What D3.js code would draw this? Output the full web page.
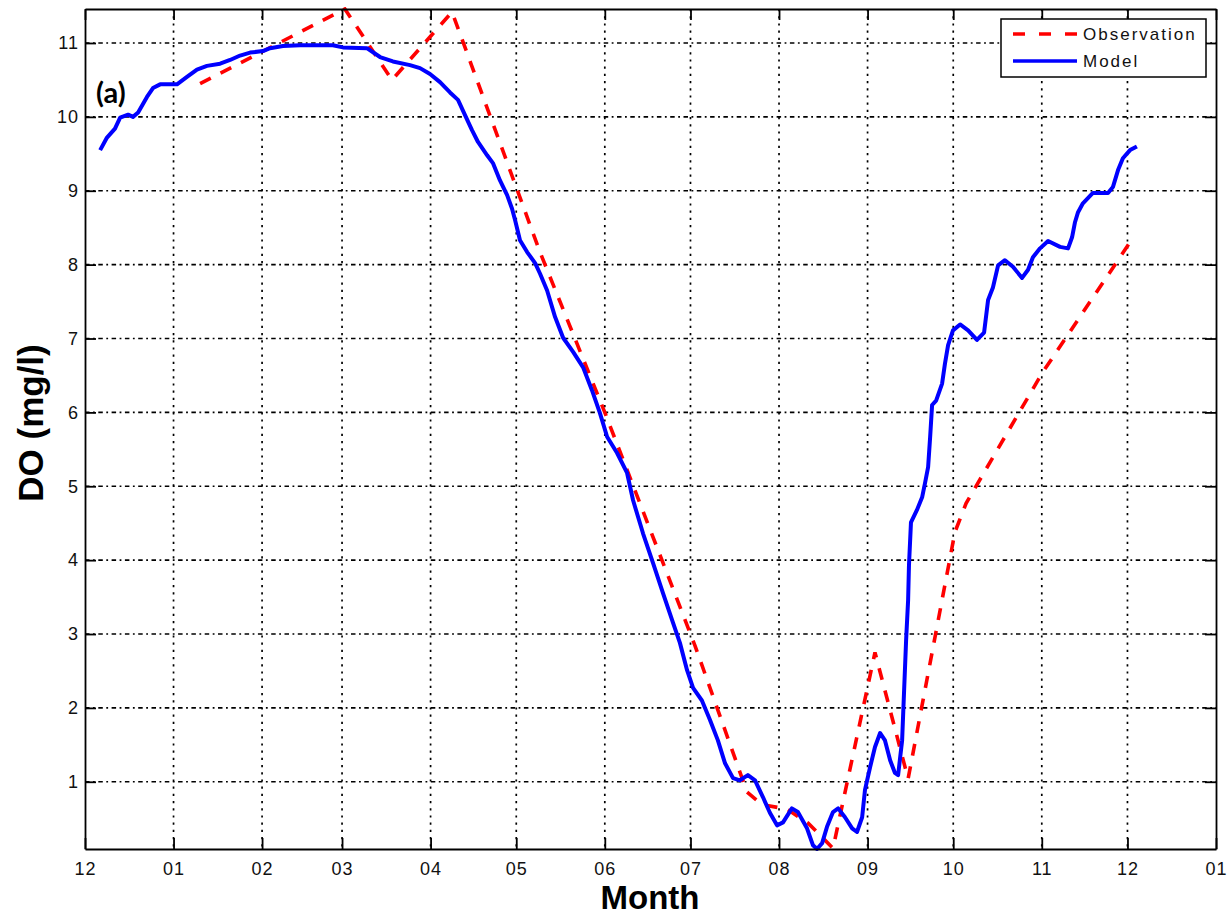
<!DOCTYPE html>
<html>
<head>
<meta charset="utf-8">
<script src="https://cdn.jsdelivr.net/npm/d3@7"></script>
<style>
  html, body { margin: 0; padding: 0; background: #fff; }
  svg { display: block; }
  .tick-label { font-family: "Liberation Sans", Arial, sans-serif; font-size: 18px; fill: #111; letter-spacing: 1px; }
  .axis-title { font-family: "Liberation Sans", Arial, sans-serif; font-size: 33px; font-weight: bold; fill: #000; }
  .legend-text { font-family: "Liberation Sans", Arial, sans-serif; font-size: 17px; fill: #111; letter-spacing: 2px; }
  .panel-tag { font-family: Lato, "Open Sans", sans-serif; font-size: 29px; font-weight: bold; fill: #000; }
</style>
</head>
<body>
<svg id="chart" width="1232" height="915"></svg>
<script>
// Dissolved oxygen, Dec 2010 – Dec 2011. Days are counted from 1 December 2010.
const startUTC = Date.UTC(2010, 11, 1);
const endUTC = Date.UTC(2012, 0, 1);

// Observed DO (mg/l)
const obsDay = [40.3, 91.0, 107.5, 128.5, 159.3, 182.1, 213.6, 231.8, 237.0, 245.8, 253.2,
  261.9, 276.6, 288.2, 304.6, 308.5, 335.1, 366.9];
const obsDO = [10.45, 11.46, 10.50, 11.42, 8.17, 5.99, 2.84, 0.86, 0.69, 0.63, 0.44,
  0.10, 2.75, 1.04, 4.38, 4.77, 6.53, 8.36];

// Modelled DO (mg/l)
const modelDay = [5.3, 7.7, 10.5, 12.3, 15.1, 16.8, 18.6, 21.7, 23.8, 26.3, 32.2, 35.7, 39.2, 42.7,
  47.3, 50.8, 54.3, 57.8, 62.3, 64.8, 69.3, 75.3, 86.8, 90.3, 98.7, 103.3, 107.8, 113.8, 117.3,
  120.8, 124.3, 127.8, 130.6, 133.1, 135.5, 137.6, 140.8, 142.9, 145.3, 147.8, 149.5, 150.6,
  152.3, 154.8, 157.6, 159.3, 161.8, 164.6, 167.4, 170.9, 174.4, 177.5, 180.3, 182.8, 186.3,
  189.8, 191.9, 195.4, 198.9, 202.4, 205.9, 208.3, 210.8, 212.9, 216.0, 218.8, 221.6, 224.1,
  226.9, 229.3, 232.1, 234.6, 237.4, 239.8, 242.3, 244.4, 247.5, 249.6, 252.8, 254.9, 256.3,
  258.1, 259.8, 261.9, 263.7, 266.1, 268.6, 270.3, 272.1, 273.1, 274.9, 276.6, 278.4, 280.1,
  281.9, 283.6, 284.7, 286.1, 286.8, 287.5, 288.2, 288.5, 289.2, 291.3, 293.1, 294.1, 295.2,
  295.9, 296.6, 298.0, 300.1, 301.1, 302.2, 303.9, 306.4, 309.2, 312.3, 314.8, 316.2, 317.9,
  319.7, 322.1, 324.9, 328.1, 330.2, 331.9, 334.4, 337.2, 341.4, 344.2, 345.6, 346.6, 347.7,
  349.4, 352.9, 358.2, 359.9, 361.7, 363.4, 365.9, 368.3];
const modelDO = [9.55, 9.72, 9.84, 9.99, 10.03, 10.00, 10.06, 10.27, 10.39, 10.44, 10.44, 10.54,
  10.64, 10.69, 10.72, 10.77, 10.83, 10.87, 10.89, 10.93, 10.96, 10.97, 10.97, 10.94, 10.93,
  10.81, 10.75, 10.70, 10.66, 10.58, 10.47, 10.33, 10.23, 10.02, 9.82, 9.66, 9.48, 9.37, 9.14,
  8.94, 8.76, 8.60, 8.33, 8.17, 8.02, 7.88, 7.65, 7.29, 7.01, 6.82, 6.61, 6.30, 5.99, 5.67,
  5.45, 5.18, 4.81, 4.36, 3.96, 3.55, 3.15, 2.88, 2.51, 2.27, 2.10, 1.84, 1.56, 1.25, 1.05,
  1.02, 1.09, 1.02, 0.79, 0.58, 0.41, 0.45, 0.64, 0.59, 0.37, 0.14, 0.09, 0.17, 0.39, 0.59,
  0.64, 0.52, 0.37, 0.32, 0.52, 0.89, 1.20, 1.47, 1.66, 1.56, 1.29, 1.12, 1.09, 1.56, 2.24,
  2.92, 3.46, 3.93, 4.51, 4.68, 4.85, 5.04, 5.26, 5.66, 6.10, 6.16, 6.39, 6.66, 6.91, 7.11,
  7.19, 7.11, 6.98, 7.08, 7.52, 7.69, 7.99, 8.06, 7.97, 7.82, 7.93, 8.10, 8.22, 8.32, 8.24,
  8.22, 8.37, 8.57, 8.71, 8.83, 8.97, 8.97, 9.05, 9.28, 9.44, 9.55, 9.60];

const yTicks = [1, 2, 3, 4, 5, 6, 7, 8, 9, 10, 11];
const yLimits = [0.09, 11.46];
const seriesNames = ["Observation", "Model"];
const seriesColors = ["#ff0000", "#0000ff"];
const xTitle = "Month";
const yTitle = "DO (mg/l)";
const panelTag = "(a)";

const toDate = d => new Date(startUTC + d * 864e5);
const obs = obsDay.map((d, i) => ({ date: toDate(d), v: obsDO[i] }));
const model = modelDay.map((d, i) => ({ date: toDate(d), v: modelDO[i] }));

const plot = { left: 85, right: 1216, top: 9, bottom: 849 };
const svg = d3.select("#chart");

const x = d3.scaleUtc().domain([new Date(startUTC), new Date(endUTC)]).range([plot.left, plot.right]);
const y = d3.scaleLinear().domain(yLimits).range([plot.bottom, plot.top]);
const monthTicks = d3.utcMonth.range(new Date(startUTC), new Date(endUTC + 1));
const fmtMonth = d3.utcFormat("%m");

// grid
const grid = svg.append("g");
grid.selectAll("line.gx").data(monthTicks.slice(1, -1)).join("line")
  .attr("x1", d => x(d)).attr("x2", d => x(d))
  .attr("y1", plot.top).attr("y2", plot.bottom)
  .attr("stroke", "#000").attr("stroke-width", 1.7).attr("stroke-dasharray", "2.2,5");
grid.selectAll("line.gy").data(yTicks).join("line")
  .attr("x1", plot.left).attr("x2", plot.right)
  .attr("y1", d => y(d)).attr("y2", d => y(d))
  .attr("stroke", "#000").attr("stroke-width", 1.7).attr("stroke-dasharray", "4.5,3.5,1.8,3.5");

// series
svg.append("clipPath").attr("id", "plotclip").append("rect")
  .attr("x", plot.left).attr("y", plot.top - 2)
  .attr("width", plot.right - plot.left).attr("height", plot.bottom - plot.top + 4);
const line = d3.line().x(d => x(d.date)).y(d => y(d.v));
const lines = svg.append("g").attr("clip-path", "url(#plotclip)");
lines.append("path").datum(obs).attr("d", line)
  .attr("fill", "none").attr("stroke", seriesColors[0]).attr("stroke-width", 3.6)
  .attr("stroke-dasharray", "12,11");
lines.append("path").datum(model).attr("d", line)
  .attr("fill", "none").attr("stroke", seriesColors[1]).attr("stroke-width", 4)
  .attr("stroke-linejoin", "round");

// axes (ticks inward on all four sides)
const tickLen = 11;
const axisBottom = d3.axisBottom(x).tickValues(monthTicks).tickFormat(fmtMonth).tickSizeInner(-tickLen).tickSizeOuter(0).tickPadding(13);
const axisTop = d3.axisTop(x).tickValues(monthTicks).tickFormat("").tickSizeInner(-tickLen).tickSizeOuter(0);
const axisLeft = d3.axisLeft(y).tickValues(yTicks).tickFormat(d3.format("d")).tickSizeInner(-tickLen).tickSizeOuter(0).tickPadding(6);
const axisRight = d3.axisRight(y).tickValues(yTicks).tickFormat("").tickSizeInner(-tickLen).tickSizeOuter(0);

function styleAxis(g) {
  g.select(".domain").attr("stroke", "#000").attr("stroke-width", 1.8);
  g.selectAll(".tick line").attr("stroke", "#000").attr("stroke-width", 1.8);
  g.selectAll(".tick text").attr("class", "tick-label");
  g.attr("font-size", null).attr("font-family", null);
}
svg.append("g").attr("transform", `translate(0,${plot.bottom})`).call(axisBottom).call(styleAxis);
svg.append("g").attr("transform", `translate(0,${plot.top})`).call(axisTop).call(styleAxis);
svg.append("g").attr("transform", `translate(${plot.left},0)`).call(axisLeft).call(styleAxis);
svg.append("g").attr("transform", `translate(${plot.right},0)`).call(axisRight).call(styleAxis);

// titles
svg.append("text").attr("class", "axis-title").attr("x", 650).attr("y", 909)
  .attr("text-anchor", "middle").text(xTitle);
svg.append("text").attr("class", "axis-title").style("font-size", "35px")
  .attr("transform", "translate(43,423) rotate(-90)")
  .attr("text-anchor", "middle").text(yTitle);
svg.append("text").attr("class", "panel-tag").attr("x", 96).attr("y", 103).text(panelTag);

// legend
const lg = svg.append("g");
lg.append("rect").attr("x", 1001).attr("y", 19).attr("width", 205).attr("height", 58)
  .attr("fill", "#fff").attr("stroke", "#000").attr("stroke-width", 1.5);
const legendRows = [34, 61];
seriesNames.forEach((name, i) => {
  lg.append("line").attr("x1", 1013).attr("x2", 1077)
    .attr("y1", legendRows[i]).attr("y2", legendRows[i])
    .attr("stroke", seriesColors[i]).attr("stroke-width", 3.6)
    .attr("stroke-dasharray", i === 0 ? "12,14" : null);
  lg.append("text").attr("class", "legend-text").attr("x", 1083).attr("y", legendRows[i])
    .attr("dominant-baseline", "central").text(name);
});
</script>
</body>
</html>
